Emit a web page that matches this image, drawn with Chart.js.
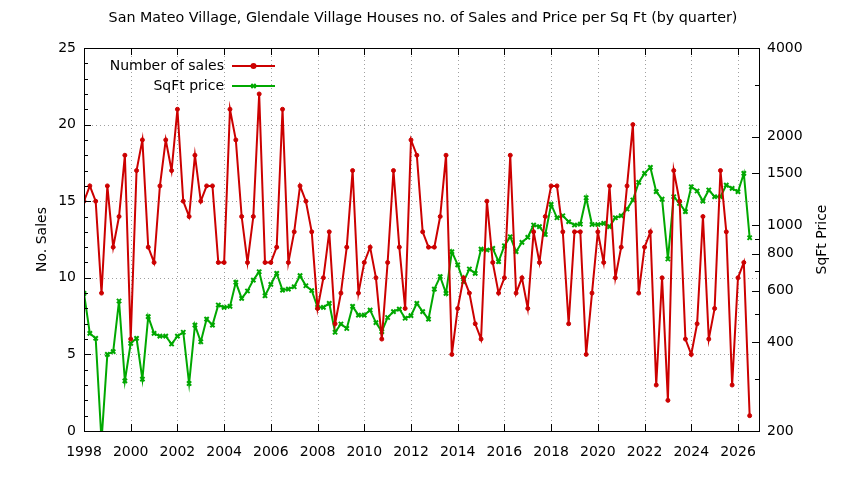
<!DOCTYPE html>
<html>
<head>
<meta charset="utf-8">
<title>San Mateo Village, Glendale Village Houses</title>
<script src="https://cdn.jsdelivr.net/npm/chart.js@4"></script>
<style>
  html, body { margin: 0; padding: 0; background: #fff; }
  #wrap { width: 844px; height: 480px; }
</style>
</head>
<body>
<div id="wrap"><canvas id="salesChart" width="844" height="480"></canvas></div>
<script>
// quarterly figures, first entry is 1998 Q1
const firstYear = 1998

const salesCount = [
    15, 16, 15, 9, 16, 12, 14, 18, 6, 17, 19, 12, 11, 16, 19, 17, 21, 15, 14, 18,
    15, 16, 16, 11, 11, 21, 19, 14, 11, 14, 22, 11, 11, 12, 21, 11, 13, 16, 15, 13,
    8, 10, 13, 7, 9, 12, 17, 9, 11, 12, 10, 6, 11, 17, 12, 8, 19, 18, 13, 12,
    12, 14, 18, 5, 8, 10, 9, 7, 6, 15, 11, 9, 10, 18, 9, 10, 8, 13, 11, 14,
    16, 16, 13, 7, 13, 13, 5, 9, 13, 11, 16, 10, 12, 16, 20, 9, 12, 13, 3, 10,
    2, 17, 15, 6, 5, 7, 14, 6, 8, 17, 13, 3, 10, 11, 1
]

const sqftPrice = [
    587, 429, 413, 185, 364, 372, 553, 296, 397, 413, 300, 489, 429, 420, 420, 395, 420, 433, 290, 458,
    402, 480, 458, 536, 526, 530, 640, 564, 598, 651, 695, 576, 630, 686, 602, 607, 618, 674, 623, 600,
    526, 526, 543, 433, 462, 446, 530, 495, 495, 515, 467, 435, 486, 509, 519, 483, 493, 543, 509, 480,
    607, 669, 587, 813, 733, 643, 710, 686, 830, 824, 834, 752, 852, 914, 813, 875, 910, 1002, 989, 930,
    1177, 1060, 1077, 1028, 1002, 1009, 1240, 1006, 1006, 1015, 989, 1060, 1077, 1135, 1218, 1398, 1500, 1572, 1300, 1227,
    768, 1250, 1187, 1112, 1351, 1307, 1208, 1317, 1250, 1250, 1369, 1334, 1300, 1500, 907
]

// axis ticks
const yearTicks = [1998, 2000, 2002, 2004, 2006, 2008, 2010, 2012, 2014, 2016, 2018, 2020, 2022, 2024, 2026]
const salesTicks = [0, 5, 10, 15, 20, 25]
const priceTicks = [200, 300, 400, 500, 600, 700, 800, 900, 1000, 1500, 2000, 3000, 4000]
const priceLabels = [200, 400, 600, 800, 1000, 1500, 2000, 4000]

const chartTitle = 'San Mateo Village, Glendale Village Houses no. of Sales and Price per Sq Ft (by quarter)'
const salesLabel = 'Number of sales'
const priceLabel = 'SqFt price'

const RED = '#cc0000'
const GREEN = '#00a800'
const FONT = '"DejaVu Sans", Verdana, sans-serif'

// quarter -> decimal year
const toPoints = (arr) => arr.map((v, i) => ({ x: firstYear + i / 4, y: v }))

// dotted grid under the lines
const gnuGrid = {
    id: 'gnuGrid',
    beforeDatasetsDraw(chart) {
        const ctx = chart.ctx
        const a = chart.chartArea
        const xs = chart.scales.x
        const ys = chart.scales.y
        ctx.save()
        ctx.strokeStyle = '#a0a0a0'
        ctx.lineWidth = 1
        ctx.setLineDash([1, 3])
        ctx.beginPath()
        yearTicks.forEach(v => {
            const px = Math.round(xs.getPixelForValue(v)) + 0.5
            if (px <= a.left + 1 || px >= a.right - 1) return
            ctx.moveTo(px, a.top); ctx.lineTo(px, a.bottom)
        })
        salesTicks.forEach(v => {
            const py = Math.round(ys.getPixelForValue(v)) + 0.5
            if (py <= a.top + 1 || py >= a.bottom - 1) return
            ctx.moveTo(a.left, py); ctx.lineTo(a.right, py)
        })
        ctx.stroke()
        ctx.restore()
    }
}

// draws the frame, inward ticks, titles and key
const gnuFrame = {
    id: 'gnuFrame',
    afterDraw(chart) {
        const ctx = chart.ctx
        const a = chart.chartArea
        const xs = chart.scales.x
        const ys = chart.scales.y
        const ps = chart.scales.price
        ctx.save()
        ctx.strokeStyle = '#000'
        ctx.lineWidth = 1
        ctx.beginPath()
        yearTicks.forEach(v => {
            const px = Math.round(xs.getPixelForValue(v)) + 0.5
            ctx.moveTo(px, a.bottom); ctx.lineTo(px, a.bottom - 7)
            ctx.moveTo(px, a.top); ctx.lineTo(px, a.top + 7)
        })
        for (let v = 0; v <= 25; v++) {
            const py = Math.round(ys.getPixelForValue(v)) + 0.5
            const len = salesTicks.includes(v) ? 7 : 4
            ctx.moveTo(a.left, py); ctx.lineTo(a.left + len, py)
        }
        priceTicks.forEach(v => {
            const py = Math.round(ps.getPixelForValue(v)) + 0.5
            const len = priceLabels.includes(v) ? 7 : 4
            ctx.moveTo(a.right, py); ctx.lineTo(a.right - len, py)
        })
        ctx.stroke()
        ctx.strokeRect(Math.round(a.left) + 0.5, Math.round(a.top) + 0.5,
            Math.round(a.right - a.left), Math.round(a.bottom - a.top))

        // titles
        ctx.fillStyle = '#000'
        ctx.textAlign = 'center'
        ctx.textBaseline = 'middle'
        ctx.font = '14.3px ' + FONT
        ctx.fillText(chartTitle, 423, 18)
        ctx.font = '14px ' + FONT
        ctx.save()
        ctx.translate(42, (a.top + a.bottom) / 2)
        ctx.rotate(-Math.PI / 2)
        ctx.fillText('No. Sales', 0, 0)
        ctx.restore()
        ctx.save()
        ctx.translate(822, (a.top + a.bottom) / 2)
        ctx.rotate(-Math.PI / 2)
        ctx.fillText('SqFt Price', 0, 0)
        ctx.restore()

        // key, top left
        const keys = [
            { text: salesLabel, color: RED, style: 'circle', r: 2 },
            { text: priceLabel, color: GREEN, style: 'crossRot', r: 3 }
        ]
        keys.forEach((k, i) => {
            const ky = 66 + i * 20
            ctx.textAlign = 'right'
            ctx.fillStyle = '#000'
            ctx.fillText(k.text, 224, ky)
            ctx.strokeStyle = k.color
            ctx.lineWidth = 2
            ctx.beginPath()
            ctx.moveTo(232, ky); ctx.lineTo(275, ky)
            ctx.stroke()
            ctx.fillStyle = k.color
            Chart.helpers.drawPoint(ctx, { pointStyle: k.style, radius: k.r, rotation: 0, borderWidth: 2 }, 253.5, ky)
        })
        ctx.restore()
    }
}

const noGrid = { display: false, drawTicks: false }

new Chart(document.getElementById('salesChart'), {
    type: 'line',
    data: {
        datasets: [
            {
                label: salesLabel,
                data: toPoints(salesCount),
                yAxisID: 'y',
                borderColor: RED,
                backgroundColor: RED,
                borderWidth: 2,
                pointStyle: 'circle',
                pointRadius: 2,
                pointBorderWidth: 1,
                tension: 0
            },
            {
                label: priceLabel,
                data: toPoints(sqftPrice),
                yAxisID: 'price',
                borderColor: GREEN,
                backgroundColor: GREEN,
                borderWidth: 2,
                pointStyle: 'crossRot',
                pointRadius: 3,
                pointBorderWidth: 2,
                tension: 0
            }
        ]
    },
    options: {
        responsive: false,
        animation: false,
        layout: { padding: { top: 48, left: 0, right: 0, bottom: 0 } },
        plugins: {
            legend: { display: false },
            title: { display: false },
            tooltip: { enabled: false }
        },
        scales: {
            x: {
                type: 'linear',
                min: 1998,
                max: 2026.9,
                grid: noGrid,
                border: { display: false },
                afterBuildTicks: (axis) => { axis.ticks = yearTicks.map(v => ({ value: v })) },
                afterFit: (axis) => { axis.height = 49 },
                ticks: {
                    color: '#000',
                    font: { family: FONT, size: 14 },
                    padding: 13,
                    maxRotation: 0,
                    autoSkip: false,
                    callback: (v) => String(v)
                }
            },
            y: {
                position: 'left',
                min: 0,
                max: 25,
                grid: noGrid,
                border: { display: false },
                afterBuildTicks: (axis) => { axis.ticks = salesTicks.map(v => ({ value: v })) },
                afterFit: (axis) => { axis.width = 84 },
                ticks: {
                    color: '#000',
                    font: { family: FONT, size: 14 },
                    padding: 8
                }
            },
            price: {
                type: 'logarithmic',
                position: 'right',
                min: 200,
                max: 4000,
                grid: noGrid,
                border: { display: false },
                afterBuildTicks: (axis) => { axis.ticks = priceTicks.map(v => ({ value: v })) },
                afterFit: (axis) => { axis.width = 85 },
                ticks: {
                    color: '#000',
                    font: { family: FONT, size: 14 },
                    padding: 8,
                    autoSkip: false,
                    callback: (v) => priceLabels.includes(v) ? String(v) : ''
                }
            }
        }
    },
    plugins: [gnuGrid, gnuFrame]
})
</script>
</body>
</html>
